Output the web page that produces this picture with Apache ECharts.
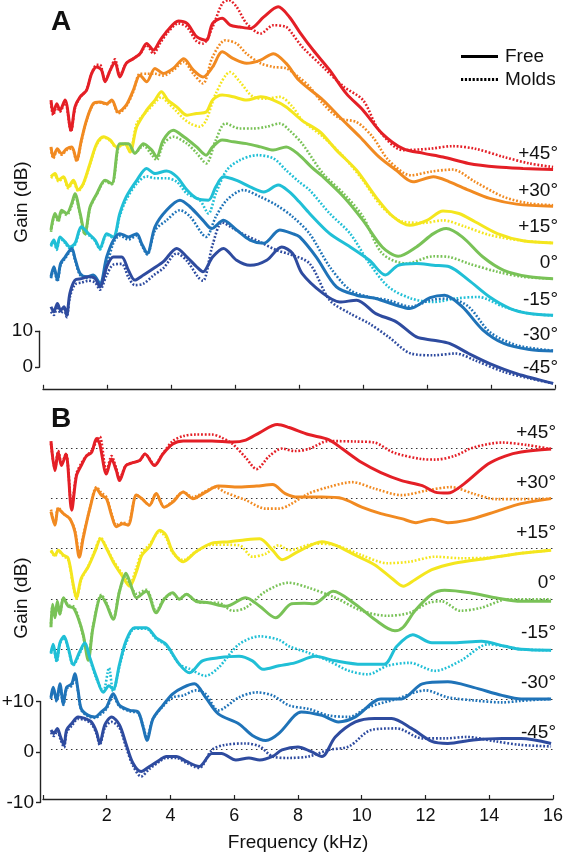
<!DOCTYPE html>
<html>
<head>
<meta charset="utf-8">
<script src="https://cdn.jsdelivr.net/npm/echarts@6/dist/echarts.min.js"></script>
<style>
html,body{margin:0;padding:0;background:#fff;}
#chart{width:566px;height:853px;}
</style>
</head>
<body>
<div id="chart"></div>
<script>
// ---------- labels, offsets, ticks ----------
const ANGLES = ['+45°', '+30°', '+15°', '0°', '-15°', '-30°', '-45°'];
const OFFSETS = [60, 50, 40, 30, 20, 10, 0];           // dB offset of each curve
const X_TICKS = [0, 2, 4, 6, 8, 10, 12, 14, 16];       // kHz
const COLORS = ['#e41f26', '#f18a21', '#f4e61e', '#79c257', '#20bfd6', '#1f73b8', '#2e4b9f'];

// ---------- Panel A: absolute gain (dB) ----------
const A_FREE_P45 = [[0.25,14.2],[0.32,10.5],[0.43,13.2],[0.53,11.4],[0.69,14.2],[0.875,5.8],[1.0,12.3],[1.16,15.1],[1.36,16.9],[1.52,21.6],[1.68,23.4],[1.83,22.5],[1.94,19.3],[2.1,22.5],[2.25,24.8],[2.4,20.6],[2.6,24.4],[2.82,25.7],[3.03,27.1],[3.24,29.9],[3.45,28.1],[3.66,30.8],[3.9,33.6],[4.23,36.2],[4.5,35.5],[4.8,31.8],[5.1,30.8],[5.3,35.5],[5.6,36.9],[5.85,35],[6.15,34.5],[6.47,34.1],[6.9,37.3],[7.35,40.1],[7.7,37.3],[8.02,33.1],[8.44,28.1],[8.96,22.5],[9.48,16],[10,11.4],[10.6,4.9],[11.25,0.7],[11.9,-0.6],[12.5,-1.6],[13.3,-3.4],[14.2,-4.4],[15,-4.8],[15.94,-5.1]];
const A_MOLD_P45 = [[0.25,13.5],[0.32,10],[0.43,12.5],[0.53,11],[0.69,13.8],[0.875,5.5],[1.0,12],[1.16,15],[1.36,17],[1.52,21.5],[1.68,24],[1.78,24],[1.94,19.5],[2.1,22.5],[2.25,25.5],[2.4,21],[2.6,24.4],[2.82,25.7],[3.03,27],[3.24,29.5],[3.45,27.1],[3.66,30],[3.9,33],[4.23,35.5],[4.5,34.5],[4.8,30.5],[5.0,29.9],[5.3,34.5],[5.6,41],[5.8,42],[6.05,40.1],[6.36,35.5],[6.8,32.7],[7.2,35],[7.6,34.5],[7.8,32.5],[8.1,29],[8.75,23.4],[9.4,17.9],[10,14.2],[10.5,5.8],[11.25,0.3],[12.1,0.7],[12.8,1.4],[13.5,0.7],[14.4,-1.6],[15.2,-3.4],[15.94,-4.4]];
const A_FREE_P30 = [[0.25,11.2],[0.32,8.4],[0.45,10.7],[0.58,9.3],[0.74,10.7],[0.9,11.2],[1.05,7.5],[1.2,13.1],[1.36,18.6],[1.57,23.2],[1.78,23.7],[1.99,23.2],[2.15,24.2],[2.35,20.9],[2.6,22.8],[2.82,26.9],[3.03,31.1],[3.24,29.3],[3.5,33],[3.76,31.6],[4.07,33],[4.4,35.7],[4.7,32.5],[5.0,30.6],[5.3,33.4],[5.6,37.6],[5.95,35.7],[6.36,34.4],[6.8,35.3],[7.2,37.1],[7.6,34.4],[8.0,29.7],[8.75,24.2],[9.27,19.5],[9.9,14],[10.5,8.4],[11.04,4.7],[11.56,1.5],[12.2,2.9],[12.7,1.5],[13.3,-0.8],[13.96,-3.1],[14.8,-4.7],[15.94,-5.3]];
const A_MOLD_P30 = [[0.25,10.8],[0.32,8],[0.45,10.3],[0.58,9],[0.74,10.3],[0.9,10.8],[1.05,7.2],[1.2,12.8],[1.36,18.4],[1.57,23],[1.78,23.5],[1.99,23],[2.15,24],[2.35,20.5],[2.6,22.5],[2.82,26.5],[3.03,31.5],[3.24,31.5],[3.5,31.5],[3.76,31],[4.07,32.5],[4.4,34.8],[4.7,31.5],[5.0,28.8],[5.3,36.2],[5.7,40.8],[6.05,39.9],[6.36,37.1],[6.8,34.4],[7.2,33.4],[7.6,33],[8.0,30.5],[8.33,27.9],[8.75,23.2],[9.27,19.1],[9.8,18.1],[10.3,14],[10.8,7.5],[11.5,3.3],[12.1,4.3],[12.8,4.9],[13.5,1.5],[14.4,-2.7],[15.2,-4.5],[15.94,-5]];
const A_FREE_P15 = [[0.25,12.9],[0.375,13.8],[0.48,12],[0.64,12.9],[0.79,10.1],[0.95,11.9],[1.1,9.2],[1.26,11],[1.47,16.6],[1.68,22.1],[1.89,24],[2.1,23.1],[2.3,21.2],[2.56,22.1],[2.72,19.8],[2.93,26.8],[3.24,31.4],[3.5,34.2],[3.7,36.5],[3.9,34.2],[4.18,32.3],[4.5,30],[4.8,30.5],[5.1,30.9],[5.3,34.2],[5.6,35.6],[5.95,35.1],[6.36,34.2],[6.8,35.1],[7.2,34.2],[7.6,32.3],[8.1,28.5],[8.65,25.4],[9.17,20.3],[9.8,14.7],[10.4,7.3],[10.94,1.8],[11.46,-0.6],[12,0.8],[12.5,3.4],[13,2.7],[13.5,0.4],[14.2,-2.9],[15,-4.9],[15.94,-5.5]];
const A_MOLD_P15 = [[0.25,12.5],[0.375,13.4],[0.48,11.6],[0.64,12.5],[0.79,9.7],[0.95,11.5],[1.1,8.9],[1.26,10.8],[1.47,16.4],[1.68,21.8],[1.89,23.8],[2.1,22.9],[2.3,21],[2.56,22],[2.72,19.8],[2.93,27.7],[3.24,31],[3.5,33.5],[3.7,35],[3.9,33.5],[4.18,31],[4.4,29],[4.6,27.7],[4.9,26.8],[5.1,28.6],[5.4,36],[5.85,42],[6.15,39.3],[6.57,35.1],[6.99,34.6],[7.4,35.1],[7.8,32.3],[8.1,28.6],[8.75,24],[9.4,18.4],[10,11.9],[10.6,4.5],[11.25,0.4],[11.9,0.1],[12.5,0.8],[13.2,-1],[13.96,-3.3],[15,-4.9],[15.94,-5.5]];
const A_FREE_0 = [[0.25,8.1],[0.375,12.7],[0.48,10.8],[0.58,13.6],[0.74,12.7],[0.9,15.5],[1.0,18.2],[1.16,12.7],[1.31,7.1],[1.47,14.5],[1.68,18.2],[1.94,21.9],[2.15,21],[2.4,32.1],[2.67,32.1],[2.87,29.4],[3.14,32.1],[3.4,30.3],[3.55,28.4],[3.76,33.1],[4.07,35.8],[4.4,34],[4.8,31.2],[5.1,28.9],[5.3,31.2],[5.6,33.1],[5.95,32.6],[6.36,32.1],[6.8,31.2],[7.2,30.3],[7.6,31.2],[8.0,29],[8.4,25.5],[8.75,22.9],[9.4,17.3],[10,10.8],[10.6,3.4],[11.1,0.8],[11.67,3.4],[12.2,7.1],[12.6,8.5],[13.1,6.2],[13.75,0.6],[14.4,-3.1],[15.2,-4.9],[15.94,-5.4]];
const A_MOLD_0 = [[0.25,7.6],[0.375,12.2],[0.48,10.4],[0.58,13.2],[0.74,12.3],[0.9,15],[1.0,17.8],[1.16,12.4],[1.31,6.8],[1.47,14.2],[1.68,18],[1.94,21.6],[2.15,20.8],[2.4,31.8],[2.67,32],[2.87,29.5],[3.14,31.5],[3.4,29],[3.55,27.5],[3.76,32],[4.07,34],[4.5,32.1],[4.8,29.5],[5.1,26.6],[5.4,33.1],[5.7,37.7],[6.15,36.3],[6.57,36.3],[6.99,36.8],[7.4,37.7],[7.7,35.8],[8.1,32.1],[8.75,23.8],[9.4,18.2],[10,11.8],[10.6,1.6],[11.35,-1.2],[12.2,0.8],[12.7,0.6],[13.3,-1.2],[14.2,-3.5],[15,-4.9],[15.94,-5.4]];
const A_FREE_M15 = [[0.25,13.9],[0.34,15.3],[0.43,13],[0.53,16.2],[0.69,14.8],[0.84,13.4],[1.0,14.4],[1.2,19],[1.42,17.1],[1.63,15.3],[1.78,13],[1.99,17.1],[2.2,16.2],[2.4,22.7],[2.6,27.3],[2.93,31.9],[3.24,35.2],[3.5,33.8],[3.86,34.5],[4.18,32.9],[4.5,29.2],[4.8,26.9],[5.17,26.4],[5.4,30.1],[5.64,32.9],[6.05,31.9],[6.47,30.1],[6.9,28.7],[7.35,30.6],[7.7,28.7],[8.0,26],[8.33,22.7],[8.96,17.1],[9.6,13.4],[10.2,9.7],[10.7,5.6],[11.1,8.3],[11.67,8.8],[12.2,8.3],[12.7,7.9],[13.3,4.2],[13.96,-0.5],[14.6,-3.7],[15.2,-5.1],[15.94,-5.6]];
const A_MOLD_M15 = [[0.25,13.5],[0.34,14.9],[0.43,12.6],[0.53,15.8],[0.69,14.5],[0.84,13],[1.0,14],[1.2,18.6],[1.42,16.8],[1.63,15],[1.78,12.7],[1.99,16.8],[2.2,15.9],[2.4,22],[2.6,26.5],[2.93,31],[3.24,33],[3.5,32.5],[3.86,32.5],[4.18,31.5],[4.5,28.2],[4.9,26.4],[5.17,22.7],[5.4,28.2],[5.74,34.7],[6.15,37.5],[6.7,38.9],[7.2,38],[7.6,34.7],[8.0,31.5],[8.33,29.2],[8.96,22.7],[9.6,17.1],[10.2,8.8],[10.8,2.3],[11.5,-0.9],[12.2,-1.9],[12.9,-0.9],[13.6,-0.5],[14.4,-3.2],[15.2,-5.1],[15.94,-5.6]];
const A_FREE_M30 = [[0.25,15.1],[0.34,17.9],[0.45,14.2],[0.55,18.8],[0.69,20.6],[0.9,23],[1.0,20.2],[1.16,16],[1.36,15.1],[1.57,15.6],[1.78,13.2],[1.99,20.6],[2.2,25.3],[2.4,27.1],[2.67,26.2],[2.93,27.1],[3.08,24.4],[3.26,21.6],[3.5,29],[3.86,33.6],[4.28,36.4],[4.6,34.5],[5.0,30.8],[5.27,28.5],[5.64,30.8],[6.05,28.1],[6.47,25.3],[6.9,24.4],[7.4,28.1],[7.8,27.1],[8.02,26.2],[8.54,20.6],[9.17,12.3],[9.8,10],[10.4,9.1],[11.04,7.2],[11.46,6.3],[12.1,9.3],[12.55,10],[13.1,6.8],[13.75,0.3],[14.4,-3.4],[15.2,-5.1],[15.94,-5.5]];
const A_MOLD_M30 = [[0.25,14.7],[0.34,17.5],[0.45,13.8],[0.55,18.4],[0.69,20.2],[0.9,22.6],[1.0,19.8],[1.16,15.6],[1.36,14.8],[1.57,15.3],[1.78,12.9],[1.99,17.9],[2.2,24.5],[2.4,26.5],[2.67,25.5],[2.93,26.5],[3.08,24],[3.26,21.3],[3.5,28],[3.86,30.8],[4.28,33.6],[4.6,31.8],[5.1,26.2],[5.4,31.8],[5.74,36.4],[6.26,39.2],[6.8,37.3],[7.3,35],[7.8,31.8],[8.33,27.1],[8.96,17.9],[9.6,11.4],[10.2,9.5],[10.8,8.6],[11.5,6.8],[12.1,8.6],[12.7,9.1],[13.3,6.8],[13.96,-0.2],[14.8,-3.9],[15.94,-5.4]];
const A_FREE_M45 = [[0.25,16.8],[0.34,15.4],[0.45,17.7],[0.55,15.8],[0.66,16.8],[0.74,14.4],[0.84,20.5],[1.0,24.2],[1.2,24.6],[1.42,25.1],[1.63,24.6],[1.78,22.3],[1.99,27.9],[2.2,30.6],[2.46,30.6],[2.67,26.9],[2.87,24.2],[3.14,25.6],[3.45,27.4],[3.76,29.3],[4.18,33],[4.5,30.6],[4.8,27.9],[5.0,26.5],[5.3,30.6],[5.64,33],[6.05,29.7],[6.47,28.3],[6.99,29.7],[7.46,33.4],[7.8,31.6],[8.1,26],[8.75,20.5],[9.27,18.1],[9.8,18.6],[10.4,14.9],[11.04,12.6],[11.67,8.4],[12.2,7.5],[12.7,6.6],[13.3,3.8],[13.96,1],[14.8,-1.8],[15.94,-4.5]];
const A_MOLD_M45 = [[0.25,15.4],[0.34,14.5],[0.45,16.8],[0.55,15],[0.66,16],[0.74,13.9],[0.84,19.5],[1.0,23],[1.2,23.5],[1.42,24],[1.63,23.5],[1.78,21.5],[1.99,25.6],[2.2,28.5],[2.46,28.7],[2.67,25],[2.87,22.8],[3.14,23.2],[3.45,25.5],[3.76,27.5],[4.18,31.6],[4.5,29.5],[4.85,25],[5.0,24],[5.3,34],[5.6,40.2],[5.9,38.8],[6.2,37.2],[6.8,34.7],[7.3,32.5],[7.7,31.4],[8.33,28.8],[8.96,18.6],[9.6,14.9],[10.2,12.1],[10.8,8.4],[11.5,3.8],[12.2,3.3],[12.9,3.8],[13.5,1.9],[14.4,-1.3],[15.2,-3.1],[15.94,-4.5]];

// ---------- Panel B: gain relative to Free at 0° (dB) ----------
const B_FREE_P45 = [[0.25,1.5],[0.375,-4.4],[0.48,-0.8],[0.58,-3.4],[0.72,-1.1],[0.9,-12.3],[1.05,-5.4],[1.2,-3.4],[1.36,-1.5],[1.52,-0.8],[1.68,2],[1.78,0.9],[1.99,-5.1],[2.15,-2.1],[2.3,-4.4],[2.4,-6.4],[2.6,-3.4],[2.82,-2.8],[3.03,-2.4],[3.2,-1.1],[3.5,-3.4],[3.76,-1.1],[4.07,0.9],[4.4,1.5],[4.8,1.5],[5.3,1.5],[5.95,1.3],[6.36,1.7],[6.8,3.2],[7.35,4.8],[7.72,4.2],[8.33,2.8],[8.96,1.8],[9.4,-0.1],[10,-2.8],[10.6,-4.8],[11.25,-6.4],[11.9,-7.4],[12.3,-8.7],[12.7,-8.9],[13.2,-7.1],[13.96,-3.1],[14.5,-1.5],[15,-0.7],[15.94,-0.1]];
const B_MOLD_P45 = [[0.25,1.0],[0.375,-4],[0.48,-0.5],[0.58,-3],[0.72,-1],[0.9,-11.5],[1.05,-5],[1.2,-3],[1.36,-1.5],[1.52,-0.5],[1.68,1.5],[1.78,2.4],[1.99,-4.5],[2.15,-1.5],[2.3,-4],[2.4,-6],[2.6,-3.4],[2.82,-2.8],[3.03,-2.4],[3.2,-1.1],[3.5,-3.2],[3.76,-1],[4.07,1.5],[4.4,2.5],[4.8,2.8],[5.3,2.8],[5.6,2.2],[5.95,0.9],[6.36,-1.8],[6.7,-4.1],[7.1,-1.5],[7.5,0],[7.9,-0.5],[8.33,-0.1],[8.96,1.5],[9.8,1.4],[10.4,1.2],[11,-0.8],[11.9,-2.1],[12.3,-2.2],[12.9,-1.5],[13.5,0.2],[14.4,1.2],[15.2,0.7],[15.94,-0.1]];
const B_FREE_P30 = [[0.25,-2.6],[0.375,-5.3],[0.48,-2],[0.64,-3],[0.84,-4],[1.0,-6.6],[1.14,-11.7],[1.26,-7.9],[1.47,-2],[1.68,2],[1.83,0.7],[1.99,0],[2.15,-3.3],[2.3,-5.6],[2.5,-5],[2.67,-5.3],[2.93,0.7],[3.1,0],[3.34,-1.3],[3.55,1],[3.8,-1.7],[4.07,-0.7],[4.4,1.3],[4.7,0],[5.1,1.3],[5.5,2.5],[6.15,2.3],[6.7,2.5],[7.2,2.8],[7.6,1],[8,0.3],[8.75,0.3],[9.4,0],[10,-1.7],[10.6,-3],[11.25,-4],[11.7,-4.8],[12.2,-4.1],[12.7,-4.8],[13.3,-4.3],[14.2,-2.6],[15,-1],[15.94,0]];
const B_MOLD_P30 = [[0.25,-2.2],[0.375,-5],[0.48,-1.8],[0.64,-3],[0.84,-4],[1.0,-6.3],[1.14,-11],[1.26,-7.5],[1.47,-2],[1.68,2.3],[1.83,1.2],[1.99,0.3],[2.15,-3],[2.3,-5.3],[2.5,-4.8],[2.67,-5],[2.93,0.7],[3.1,0],[3.34,-1.3],[3.55,1],[3.8,-1.7],[4.07,-0.5],[4.4,1.3],[4.7,0.3],[5.1,1.5],[5.4,2.3],[5.7,1.3],[6.36,-0.3],[6.99,-2],[7.4,-2],[7.72,-1.3],[8.33,1],[8.96,2.3],[9.7,3.3],[10.4,2],[11.25,0.7],[12.1,1.7],[12.8,2.3],[13.5,1],[14.2,-0.1],[15,-0.1],[15.94,0]];
const B_FREE_P15 = [[0.25,-0.3],[0.375,-1.3],[0.48,-0.3],[0.64,-1.3],[0.79,-1.9],[0.95,-7.2],[1.05,-9.8],[1.2,-5.9],[1.42,-3.6],[1.63,-0.6],[1.81,2],[1.99,0.1],[2.2,-2.6],[2.46,-5.2],[2.72,-7.5],[2.93,-4.6],[3.1,-1.3],[3.34,0.4],[3.66,3.7],[3.86,2.7],[4.07,-0.6],[4.4,-2.6],[4.8,-0.6],[5.3,1.1],[5.85,1.4],[6.36,1.8],[6.8,2],[7.2,-0.3],[7.5,-2.2],[8,-0.6],[8.75,1.4],[9.17,0.7],[9.8,-1.3],[10.4,-3.2],[10.94,-5.9],[11.3,-7.5],[11.67,-6.2],[12.2,-4.2],[12.9,-2.9],[13.96,-1.9],[15,-0.9],[15.94,-0.3]];
const B_MOLD_P15 = [[0.25,-0.5],[0.375,-1.5],[0.48,-0.5],[0.64,-1.5],[0.79,-2.2],[0.95,-7.5],[1.05,-10],[1.2,-6.2],[1.42,-3.5],[1.63,-0.3],[1.81,2.2],[1.99,0.3],[2.2,-2.3],[2.46,-4.8],[2.72,-7],[2.93,-3.8],[3.1,-0.8],[3.34,0.8],[3.66,3.4],[3.86,2.2],[4.07,-0.8],[4.4,-2.3],[4.8,-0.6],[5.3,0.8],[6.15,0.7],[6.57,-1.6],[6.99,-1],[7.4,0.7],[7.72,-0.3],[8.54,1],[9.17,0.7],[10,-1.3],[10.8,-2.9],[11.5,-2.6],[12.3,-1.6],[13.1,-1.9],[13.96,-1.8],[15,-0.9],[15.94,-0.3]];
const B_FREE_0 = [[0.25,-5.7],[0.3,-1.1],[0.375,-3.8],[0.45,-0.5],[0.53,-3.1],[0.64,0.2],[0.79,-1.5],[0.95,-1.8],[1.1,-3.8],[1.26,-7.1],[1.42,-12.3],[1.57,-5.7],[1.83,0.5],[1.99,-1.1],[2.2,-4.1],[2.4,1.5],[2.6,5.1],[2.77,2.5],[2.93,0.2],[3.24,1.5],[3.55,-2.8],[3.8,-0.1],[4.07,1.2],[4.28,-0.1],[4.5,0.9],[4.8,-0.5],[5.2,-0.8],[5.74,-1.5],[6.36,0.2],[6.8,-1.5],[7.3,-3.8],[7.8,-1],[8.2,-0.9],[8.5,-1],[9.1,1.5],[9.8,-1.1],[10.4,-4.1],[11.04,-6.4],[11.3,-5.7],[11.67,-2.4],[12.2,0.9],[12.6,1.7],[13.4,1.2],[14.2,0.2],[15,-0.5],[15.94,-0.5]];
const B_MOLD_0 = [[0.25,-5],[0.3,-1.5],[0.375,-3.5],[0.45,-1],[0.53,-3],[0.64,0],[0.79,-1.3],[0.95,-1.5],[1.1,-3.5],[1.26,-7.5],[1.42,-11.5],[1.57,-5.5],[1.83,0.8],[1.99,-0.8],[2.2,-4],[2.4,1.5],[2.6,4.5],[2.77,2.3],[2.93,1],[3.24,1.8],[3.55,-2.5],[3.8,0],[4.07,1],[4.28,0],[4.5,0.9],[4.8,-0.5],[5.2,-0.8],[5.5,-0.8],[5.95,-2.4],[6.36,-1.8],[6.99,1.5],[7.7,3.2],[8.33,2.2],[9.17,0.2],[10,-2.4],[10.8,-3.4],[11.5,-2.8],[12.1,-0.8],[12.5,-0.5],[13.1,-2.4],[13.75,-1.8],[14.6,-0.1],[15.94,-0.1]];
const B_FREE_M15 = [[0.25,-0.8],[0.32,0.9],[0.43,-2.4],[0.53,1.2],[0.66,2.5],[0.79,0.2],[0.95,-3.1],[1.16,-0.5],[1.31,1.2],[1.47,-1.8],[1.68,-5.7],[1.89,-8.7],[2.07,-7.4],[2.2,-8.1],[2.4,-3.1],[2.6,1.5],[2.87,4.2],[3.24,4.2],[3.55,2.2],[3.86,0.9],[4.28,-3.1],[4.6,-4.8],[5.0,-2.4],[5.5,-1.8],[6.15,-1.5],[6.57,-2.4],[6.9,-4.1],[7.4,-3.4],[7.9,-2.8],[8.54,-1.5],[9.17,-2.4],[10,-3.1],[10.7,-3.1],[11.1,0.5],[11.6,2.8],[12.2,1.2],[12.9,1.2],[13.75,1.5],[14.5,0.5],[15,-0.1],[15.94,-0.3]];
const B_MOLD_M15 = [[0.25,-1],[0.32,0.5],[0.43,-2.6],[0.53,1],[0.66,2.2],[0.79,0],[0.95,-3.3],[1.16,-0.8],[1.31,1],[1.47,-2],[1.68,-6],[1.89,-8.5],[2.07,-3.8],[2.2,-8.5],[2.4,-3.5],[2.6,1],[2.87,4],[3.24,4],[3.55,2],[3.86,0.7],[4.28,-3.1],[4.6,-4],[5.1,-5.4],[5.5,-3.8],[6.15,0.9],[6.8,2.5],[7.4,1.8],[7.72,0.5],[8.33,-0.8],[8.96,-2.4],[9.6,-4.4],[10.2,-5.1],[10.8,-3.4],[11.5,-2.8],[12.3,-4.4],[13.1,-2.4],[13.96,0.9],[14.5,0.5],[15,-0.1],[15.94,-0.3]];
const B_FREE_M30 = [[0.25,0.3],[0.32,2.3],[0.43,-0.3],[0.53,3],[0.64,-1],[0.74,2.3],[0.9,3],[1.0,5],[1.1,1.7],[1.2,-2],[1.42,-3.3],[1.63,-3.6],[1.83,-2.6],[1.99,-1.7],[2.2,1],[2.4,-1.3],[2.72,-2.3],[2.98,-2.6],[3.14,-5.6],[3.26,-8.3],[3.45,-4],[3.76,-1.3],[4.07,1],[4.4,2.3],[4.75,3],[5.1,0.3],[5.5,-3],[6.15,-5],[6.57,-7.3],[6.99,-8.3],[7.4,-6.9],[7.9,-3.3],[8.1,-2.6],[8.75,-3.3],[9.27,-4.6],[9.8,-3.6],[10.6,0],[11.25,0],[11.9,3],[12.7,3.4],[13.5,2.3],[14.4,0.7],[15,0],[15.94,0]];
const B_MOLD_M30 = [[0.25,0],[0.32,2],[0.43,-0.5],[0.53,2.6],[0.64,-1.2],[0.74,2],[0.9,2.6],[1.0,4.5],[1.1,1.5],[1.2,-2.2],[1.42,-3.5],[1.63,-3.8],[1.83,-3],[1.99,-2],[2.2,0.5],[2.4,-1.5],[2.72,-2.5],[2.98,-2.8],[3.14,-5.4],[3.26,-7.8],[3.45,-4],[3.76,-1.5],[4.07,0.3],[4.4,0.7],[4.8,1.7],[5.1,1],[5.5,-2.3],[6.15,0.3],[6.7,1.3],[7.2,0.7],[7.72,-1.3],[8.33,-2],[8.96,-3.3],[9.6,-3.6],[10.2,-1.7],[11.1,0],[12,1.7],[12.7,0.3],[13.5,-0.3],[14.4,-0.7],[15,-0.4],[15.94,0]];
const B_FREE_M45 = [[0.25,3.8],[0.34,3.1],[0.45,4.1],[0.55,2.4],[0.66,0.8],[0.74,3.8],[0.9,5.1],[1.1,6.4],[1.31,6.1],[1.52,5.4],[1.68,3.4],[1.78,1.1],[1.94,4.8],[2.15,6.4],[2.4,4.8],[2.6,1.1],[2.82,-2.8],[3.08,-4.5],[3.34,-3.5],[3.66,-2.2],[3.86,-1.5],[4.18,-1.5],[4.5,-2.5],[4.9,-3.5],[5.3,-0.9],[5.6,-0.9],[6.05,-2.2],[6.46,-1.8],[6.8,-2.2],[7.2,-1.5],[7.5,-0.2],[8.0,0.4],[8.4,-0.5],[8.75,-1.5],[9.17,2.4],[9.8,5.4],[10.4,6.1],[10.94,6.1],[11.56,4.1],[12.2,1.5],[12.7,1.1],[13.5,1.8],[14.4,2.1],[15,2.1],[15.94,1.1]];
const B_MOLD_M45 = [[0.25,3.3],[0.34,2.6],[0.45,3.6],[0.55,1.9],[0.66,0.3],[0.74,3.3],[0.9,4.6],[1.1,6],[1.31,5.8],[1.52,5],[1.68,3],[1.78,0.8],[1.94,4.2],[2.15,5.4],[2.4,4.2],[2.6,0.5],[2.82,-3.3],[3.08,-5.5],[3.34,-4],[3.66,-2.5],[3.86,-1.8],[4.18,-1.8],[4.5,-2.8],[4.9,-3.8],[5.3,-0.2],[5.7,0.8],[6.36,1.1],[6.8,0.5],[7.2,-1.5],[7.7,-1.8],[8.33,-1.5],[8.96,-0.2],[9.6,0.5],[10.3,3.8],[11.1,4.1],[11.9,2.1],[12.6,2.1],[13.3,2.4],[14.2,1.5],[15,0.8],[15.94,0.5]];

const A_FREE = [A_FREE_P45, A_FREE_P30, A_FREE_P15, A_FREE_0, A_FREE_M15, A_FREE_M30, A_FREE_M45];
const A_MOLD = [A_MOLD_P45, A_MOLD_P30, A_MOLD_P15, A_MOLD_0, A_MOLD_M15, A_MOLD_M30, A_MOLD_M45];
const B_FREE = [B_FREE_P45, B_FREE_P30, B_FREE_P15, B_FREE_0, B_FREE_M15, B_FREE_M30, B_FREE_M45];
const B_MOLD = [B_MOLD_P45, B_MOLD_P30, B_MOLD_P15, B_MOLD_0, B_MOLD_M15, B_MOLD_M30, B_MOLD_M45];

// ---------- build chart ----------
const FONT = '"Liberation Sans", Arial, Helvetica, sans-serif';
const DOT = [1.8, 1.8];
const shift = (arr, off) => arr.map(p => [p[0], p[1] + off]);

function angleLabel(i, yVal) {
  return {
    symbol: 'rect', symbolSize: 1, silent: true,
    itemStyle: { color: 'rgba(0,0,0,0)' },
    label: { show: true, position: [3.5, -15.5], align: 'right', verticalAlign: 'middle',
             fontSize: 19, color: '#111', fontFamily: FONT, formatter: () => ANGLES[i] },
    data: [{ coord: [16, yVal] }]
  };
}

const series = [];
for (let i = 0; i < 7; i++) {
  const last = A_FREE[i][A_FREE[i].length - 1][1] + OFFSETS[i];
  series.push({ type: 'line', xAxisIndex: 0, yAxisIndex: 0, data: shift(A_MOLD[i], OFFSETS[i]),
    smooth: 0.3, symbol: 'none', clip: false, z: 2,
    lineStyle: { color: COLORS[i], width: 2.6, type: DOT, cap: 'butt' } });
  series.push({ type: 'line', xAxisIndex: 0, yAxisIndex: 0, data: shift(A_FREE[i], OFFSETS[i]),
    smooth: 0.3, symbol: 'none', clip: false, z: 3,
    lineStyle: { color: COLORS[i], width: 3 },
    markPoint: angleLabel(i, last) });
}
for (let i = 0; i < 7; i++) {
  series.push({ type: 'line', xAxisIndex: 1, yAxisIndex: 1, data: shift(B_MOLD[i], OFFSETS[i]),
    smooth: 0.3, symbol: 'none', clip: false, z: 2,
    lineStyle: { color: COLORS[i], width: 2.6, type: DOT, cap: 'butt' } });
  series.push({ type: 'line', xAxisIndex: 1, yAxisIndex: 1, data: shift(B_FREE[i], OFFSETS[i]),
    smooth: 0.3, symbol: 'none', clip: false, z: 3,
    lineStyle: { color: COLORS[i], width: 3 },
    markPoint: angleLabel(i, OFFSETS[i]),
    markLine: { silent: true, symbol: 'none', z: 1,
      lineStyle: { color: '#333', width: 1.2, type: [1.5, 3.5] }, label: { show: false },
      data: [[{ coord: [0.25, OFFSETS[i]] }, { coord: [16, OFFSETS[i]] }]] } });
}
// legend entries (no data)
series.push({ name: 'Free', type: 'line', xAxisIndex: 0, yAxisIndex: 0, data: [], symbol: 'none',
  itemStyle: { color: '#000' }, lineStyle: { color: '#000', width: 2.5 } });
series.push({ name: 'Molds', type: 'line', xAxisIndex: 0, yAxisIndex: 0, data: [], symbol: 'none',
  itemStyle: { color: '#000' }, lineStyle: { color: '#000', width: 2.5, type: DOT } });

// legend icon paths
const SOLID_ICON = 'path://M0,0H37V3H0Z';
let dotPath = 'path://';
for (let k = 0; k < 10; k++) { const x0 = k * 3.9; dotPath += 'M' + x0 + ',0H' + (x0 + 2.2) + 'V3H' + x0 + 'Z'; }

const axisLine = { show: true, onZero: false, lineStyle: { color: '#222', width: 1.4 } };
const xBase = {
  type: 'value', min: 0, max: 16, interval: 2,
  axisLine: axisLine, splitLine: { show: false },
  axisTick: { show: true, inside: true, length: 4, lineStyle: { color: '#222', width: 1.2 } }
};

const option = {
  animation: false,
  backgroundColor: '#fff',
  textStyle: { fontFamily: FONT },
  grid: [
    { left: 43, width: 512, top: 0, height: 388.8 },
    { left: 43, width: 512, top: 398.5, height: 404 },
    { left: 39, width: 1, top: 331.2, height: 36 },
    { left: 39, width: 1, top: 701.5, height: 101 }
  ],
  xAxis: [
    Object.assign({}, xBase, { gridIndex: 0, axisLabel: { show: false } }),
    Object.assign({}, xBase, { gridIndex: 1,
      axisLabel: { show: true, fontSize: 18, color: '#111', margin: 8, fontFamily: FONT,
        formatter: v => (v === 0 ? '' : String(v)) },
      name: 'Frequency (kHz)', nameLocation: 'middle', nameGap: 34,
      nameTextStyle: { fontSize: 19, color: '#111', fontFamily: FONT } }),
    { gridIndex: 2, type: 'value', show: false, min: 0, max: 1 },
    { gridIndex: 3, type: 'value', show: false, min: 0, max: 1 }
  ],
  yAxis: [
    { gridIndex: 0, type: 'value', min: -6, max: 102, show: false },
    { gridIndex: 1, type: 'value', min: -10, max: 70, show: false },
    { gridIndex: 2, type: 'value', min: 0, max: 10, interval: 10,
      axisLine: axisLine, splitLine: { show: false },
      axisTick: { show: true, inside: false, length: 4, lineStyle: { color: '#222', width: 1.4 } },
      axisLabel: { fontSize: 19, color: '#111', margin: 6, fontFamily: FONT } },
    { gridIndex: 3, type: 'value', min: -10, max: 10, interval: 10,
      axisLine: axisLine, splitLine: { show: false },
      axisTick: { show: true, inside: false, length: 4, lineStyle: { color: '#222', width: 1.4 } },
      axisLabel: { fontSize: 19, color: '#111', margin: 6, fontFamily: FONT,
        formatter: v => (v > 0 ? '+' + v : String(v)) } }
  ],
  legend: {
    data: [{ name: 'Free', icon: SOLID_ICON }, { name: 'Molds', icon: dotPath }],
    orient: 'vertical', left: 456, top: 42,
    itemWidth: 37, itemHeight: 3, itemGap: 4,
    textStyle: { fontSize: 19, color: '#111', fontFamily: FONT, padding: [0, 0, 0, 2] }
  },
  graphic: [
    { type: 'text', left: 51, top: 8, style: { text: 'A', font: 'bold 28px ' + FONT, fill: '#111' } },
    { type: 'text', left: 51, top: 405, style: { text: 'B', font: 'bold 28px ' + FONT, fill: '#111' } },
    { type: 'text', x: 22, y: 202, rotation: Math.PI / 2,
      style: { text: 'Gain (dB)', font: '19px ' + FONT, fill: '#111', textAlign: 'center', textVerticalAlign: 'middle' } },
    { type: 'text', x: 22, y: 598, rotation: Math.PI / 2,
      style: { text: 'Gain (dB)', font: '19px ' + FONT, fill: '#111', textAlign: 'center', textVerticalAlign: 'middle' } }
  ],
  series: series
};

const chart = echarts.init(document.getElementById('chart'), null, { renderer: 'canvas' });
chart.setOption(option);
</script>
</body>
</html>
